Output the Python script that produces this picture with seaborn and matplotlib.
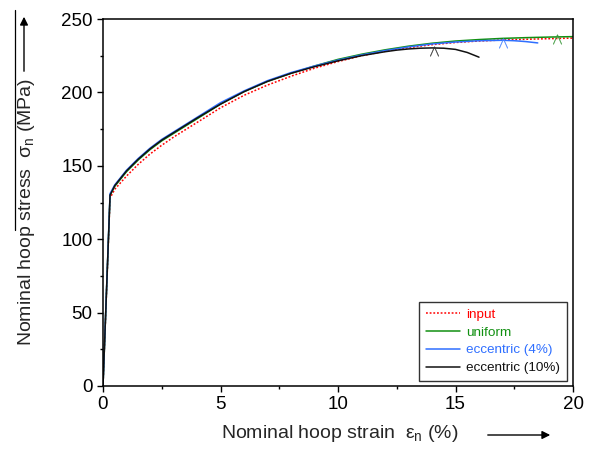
import numpy as np
import pandas as pd
import matplotlib
matplotlib.use("Agg")
import matplotlib.pyplot as plt
from matplotlib.lines import Line2D
import seaborn as sns

# ---- data ----
strain_input = [0, 0.3, 0.5, 1.0, 1.5, 2.0, 2.5, 3.0, 4.0, 5.0, 6.0, 7.0, 8.0, 9.0, 10.0,
                11.0, 12.0, 13.0, 14.0, 15.0, 16.0, 17.0, 18.0, 19.0, 20.0]
stress_input = [0, 128, 134, 143, 151, 158, 164, 169.5, 179.5, 189.5, 198, 205, 211, 216.5, 221,
                225, 228, 230.5, 232.5, 234, 235, 235.7, 236.2, 236.6, 237]

strain_uniform = [0, 0.3, 0.5, 1.0, 1.5, 2.0, 2.5, 3.0, 4.0, 5.0, 6.0, 7.0, 8.0, 9.0, 10.0,
                  11.0, 12.0, 13.0, 14.0, 15.0, 16.0, 17.0, 18.0, 19.0, 20.0]
stress_uniform = [0, 130, 136, 146, 154, 161, 167, 172, 182, 192, 200.5, 207.5, 213, 218, 222.5,
                  226, 229, 231.5, 233.5, 235, 236, 236.8, 237.3, 237.7, 238]

strain_ecc4 = [0, 0.3, 0.5, 1.0, 1.5, 2.0, 2.5, 3.0, 4.0, 5.0, 6.0, 7.0, 8.0, 9.0, 10.0,
               11.0, 12.0, 13.0, 14.0, 15.0, 16.0, 17.0, 17.5, 18.0, 18.5]
stress_ecc4 = [0, 131, 137, 147, 155, 162, 168, 173, 183, 193, 201, 208, 213.5, 218, 222,
               225.5, 228.5, 231, 233, 234.3, 235.2, 235.5, 235.2, 234.6, 233.7]

strain_ecc10 = [0, 0.3, 0.5, 1.0, 1.5, 2.0, 2.5, 3.0, 4.0, 5.0, 6.0, 7.0, 8.0, 9.0, 10.0,
                11.0, 12.0, 12.5, 13.0, 13.5, 14.0, 14.5, 15.0, 15.5, 16.0]
stress_ecc10 = [0, 130, 136.5, 146.5, 154.5, 161.5, 167.5, 172.5, 182.5, 192, 200.5, 207.5, 213, 217.5, 221.5,
                225, 227.7, 228.8, 229.6, 230.1, 230.3, 230.1, 229.3, 227.2, 224]

# failure markers (strain, stress)
fail_strain = [14.1, 17.0, 19.3]
fail_stress = [228.3, 233.6, 236.4]
fail_colors = ["#333333", "#4a86ff", "#3d9a3d"]

series_names = ["input", "uniform", "eccentric (4%)", "eccentric (10%)"]
series_colors = ["#ff0000", "#119011", "#2f6fff", "#111111"]

frames = []
for name, xs, ys in zip(series_names,
                        [strain_input, strain_uniform, strain_ecc4, strain_ecc10],
                        [stress_input, stress_uniform, stress_ecc4, stress_ecc10]):
    frames.append(pd.DataFrame({"strain": xs, "stress": ys, "series": name}))
df = pd.concat(frames, ignore_index=True)

# ---- style ----
sns.set_theme(style="white")
plt.rcParams["font.family"] = ["Liberation Sans", "DejaVu Sans"]
plt.rcParams["mathtext.fontset"] = "custom"
plt.rcParams["mathtext.rm"] = "Liberation Sans"
plt.rcParams["mathtext.it"] = "Liberation Sans"

fig = plt.figure(figsize=(5.95, 4.5), dpi=100)
ax = fig.add_axes([103 / 595, 1 - 386 / 450, 470 / 595, 367 / 450])

sns.lineplot(data=df, x="strain", y="stress", hue="series", style="series",
             hue_order=series_names, style_order=series_names,
             palette=dict(zip(series_names, series_colors)),
             dashes={"input": (1.2, 1.2), "uniform": "", "eccentric (4%)": "", "eccentric (10%)": ""},
             linewidth=1.1, sort=False, estimator=None, ax=ax)

for xs, ys, c in zip(fail_strain, fail_stress, fail_colors):
    ax.plot([xs], [ys], linestyle="none", marker=r"$\wedge$", markersize=7,
            color=c, markeredgewidth=0.2)

ax.set_xlim(0, 20)
ax.set_ylim(0, 250)
ax.set_xticks([0, 5, 10, 15, 20])
ax.set_yticks([0, 50, 100, 150, 200, 250])
ax.set_xticks(np.arange(0, 20.1, 2.5), minor=True)
ax.set_yticks(np.arange(0, 251, 25), minor=True)
ax.tick_params(which="major", direction="out", length=4.5, width=1.0, color="black",
               labelsize=13.5, bottom=True, left=True, top=False, right=False,
               pad=3, labelcolor="black")
ax.tick_params(which="minor", direction="out", length=2.5, width=1.0, color="black",
               bottom=True, left=True, top=False, right=False)
for s in ax.spines.values():
    s.set_visible(True)
    s.set_color("black")
    s.set_linewidth(1.1)
ax.set_xlabel("")
ax.set_ylabel("")

# legend
leg = ax.legend(loc="lower right", bbox_to_anchor=(567 / 595, 69 / 450),
                bbox_transform=fig.transFigure, borderaxespad=0, fontsize=9.7,
                frameon=True, fancybox=False, edgecolor="black", handlelength=2.5,
                handletextpad=0.5, labelspacing=0.4, borderpad=0.5)
leg.get_frame().set_linewidth(1.0)
for txt, c in zip(leg.get_texts(), series_colors):
    txt.set_color(c)

# axis labels with arrows
fig.text(340 / 595, 1 - 434 / 450, r"Nominal hoop strain  $\varepsilon_{\rm n}$ (%)",
         ha="center", va="center", fontsize=14)
fig.text(27 / 595, 1 - 212 / 450, r"Nominal hoop stress  $\sigma_{\rm n}$ (MPa)",
         ha="center", va="center", rotation=90, fontsize=14)
fig.add_artist(matplotlib.patches.FancyArrowPatch(
    (485 / 595, 1 - 435 / 450), (553 / 595, 1 - 435 / 450), transform=fig.transFigure,
    arrowstyle="-|>", mutation_scale=12, color="black", linewidth=1.0))
fig.add_artist(matplotlib.patches.FancyArrowPatch(
    (24 / 595, 1 - 74 / 450), (24 / 595, 1 - 14 / 450), transform=fig.transFigure,
    arrowstyle="-|>", mutation_scale=12, color="black", linewidth=1.0))
fig.add_artist(Line2D([15 / 595, 15 / 595], [1 - 10 / 450, 1 - 230 / 450],
                      transform=fig.transFigure, color="black", linewidth=0.9))

fig.savefig("out.png", dpi=100)
